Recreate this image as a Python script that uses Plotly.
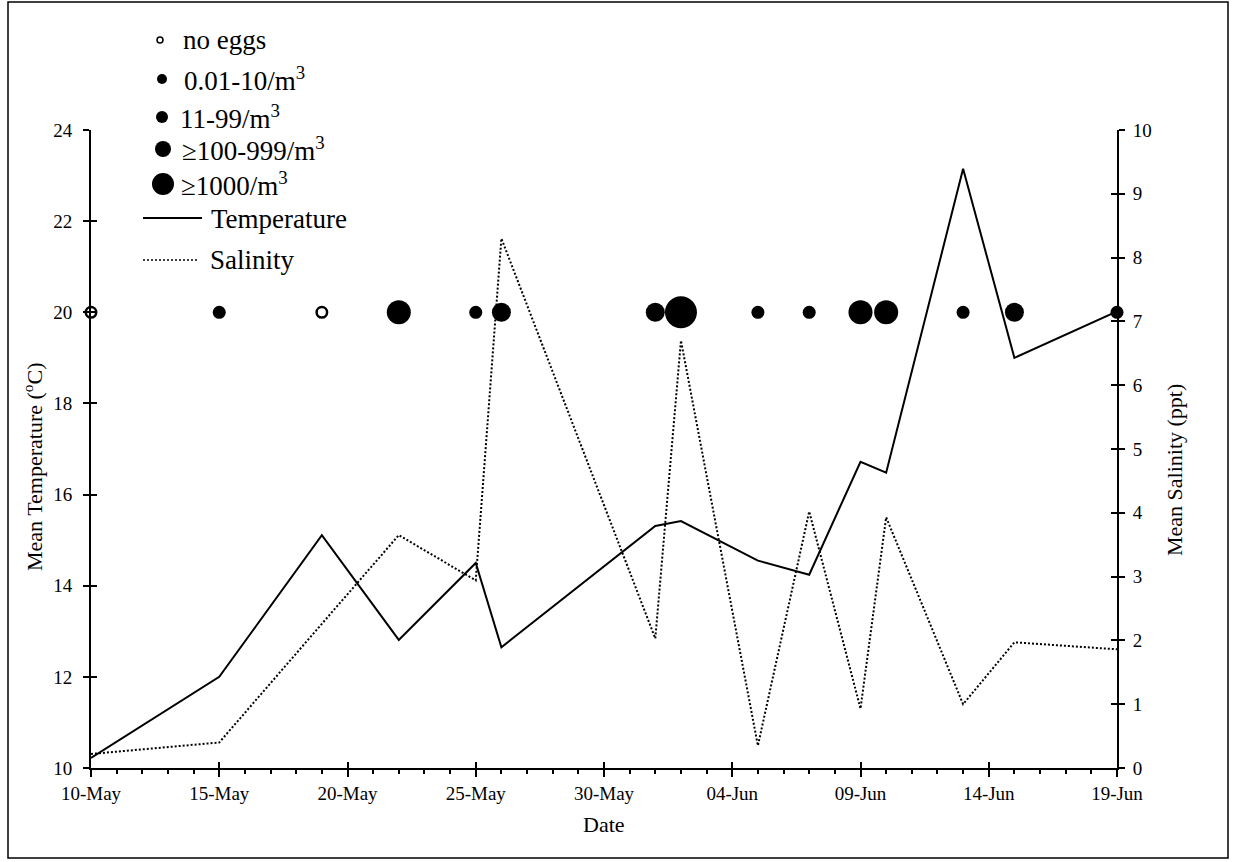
import plotly.graph_objects as go

# ---------------- data ----------------
dates = ["2023-05-10", "2023-05-15", "2023-05-19", "2023-05-22", "2023-05-25",
         "2023-05-26", "2023-06-01", "2023-06-02", "2023-06-05", "2023-06-07",
         "2023-06-09", "2023-06-10", "2023-06-13", "2023-06-15", "2023-06-19"]
temperature = [10.22, 12.0, 15.11, 12.81, 14.5, 12.65, 15.31, 15.42, 14.55, 14.24,
               16.72, 16.48, 23.15, 19.0, 20.02]
salinity = [0.22, 0.40, 2.26, 3.65, 2.94, 8.30, 2.03, 6.70, 0.35, 4.02,
            0.93, 3.93, 1.0, 1.97, 1.86]
egg_class = ["none", "c1", "none", "c3", "c1", "c2", "c2", "c4", "c1", "c1",
             "c3", "c3", "c1", "c2", "c1"]
egg_row_level = 20  # row of egg-density markers, on temperature axis

class_keys = ["none", "c1", "c2", "c3", "c4"]
class_labels = ["no eggs", "0.01-10/m<sup>3</sup>", "11-99/m<sup>3</sup>",
                "≥100-999/m<sup>3</sup>", "≥1000/m<sup>3</sup>"]

x_range = ["2023-05-10", "2023-06-19"]
temp_range = [10, 24]
sal_range = [0, 10]

# ---------------- styling ----------------
W, H = 1233, 862
PL, PR, PT, PB = 91, 1117, 130, 768
FONT = "Liberation Serif"
DAY = 86400000


def px(x):
    return x / W


def py(y):
    return 1 - y / H


chart_marker_size = {"none": 10.5, "c1": 13, "c2": 19, "c3": 24, "c4": 32}
legend_marker_size = {"none": 6, "c1": 10, "c2": 12, "c3": 16, "c4": 22}

fig = go.Figure()

fig.add_trace(go.Scatter(x=dates, y=temperature, mode="lines",
                         line=dict(color="black", width=2),
                         xaxis="x", yaxis="y", hoverinfo="skip"))
fig.add_trace(go.Scatter(x=dates, y=salinity, mode="lines",
                         line=dict(color="black", width=2, dash="2px,2px"),
                         xaxis="x", yaxis="y2", hoverinfo="skip"))

for k in class_keys:
    xs = [d for d, c in zip(dates, egg_class) if c == k]
    if k == "none":
        mk = dict(size=chart_marker_size[k], color="white",
                  line=dict(color="black", width=2.5))
    else:
        mk = dict(size=chart_marker_size[k], color="black",
                  line=dict(color="black", width=0))
    fig.add_trace(go.Scatter(x=xs, y=[egg_row_level] * len(xs), mode="markers",
                             marker=mk, cliponaxis=False,
                             xaxis="x", yaxis="y", hoverinfo="skip"))

# dummy traces so overlay axes (inner halves of crossing ticks) render
fig.add_trace(go.Scatter(x=[x_range[0]], y=[None], xaxis="x2", yaxis="y", mode="lines", hoverinfo="skip"))
fig.add_trace(go.Scatter(x=[x_range[0]], y=[None], xaxis="x", yaxis="y3", mode="lines", hoverinfo="skip"))
fig.add_trace(go.Scatter(x=[x_range[0]], y=[None], xaxis="x", yaxis="y4", mode="lines", hoverinfo="skip"))

xdom = [px(PL), px(PR)]
ydom = [py(PB), py(PT)]
tickfont = dict(family=FONT, size=19, color="black")

fig.update_layout(
    width=W, height=H,
    margin=dict(l=0, r=0, t=0, b=0),
    paper_bgcolor="white", plot_bgcolor="white",
    showlegend=False,
    font=dict(family=FONT, color="black"),
    xaxis=dict(domain=xdom, anchor="y", type="date", range=x_range,
               tick0=x_range[0], dtick=5 * DAY, tickformat="%d-%b",
               ticks="outside", ticklen=7, tickwidth=2, tickcolor="black",
               showline=True, linewidth=2, linecolor="black",
               showgrid=False, zeroline=False, tickfont=tickfont,
               automargin=False,
               minor=dict(dtick=DAY, tick0=x_range[0], ticks="outside",
                          ticklen=4, tickwidth=1.5, tickcolor="black",
                          showgrid=False)),
    xaxis2=dict(domain=xdom, anchor="y", overlaying="x", type="date", range=x_range,
                tick0=x_range[0], dtick=5 * DAY, ticks="inside", ticklen=6,
                tickwidth=2, tickcolor="black", showticklabels=False,
                showline=False, showgrid=False, zeroline=False, automargin=False),
    yaxis=dict(domain=ydom, anchor="x", range=temp_range, dtick=2,
               ticks="outside", ticklen=6, tickwidth=2, tickcolor="black",
               showline=True, linewidth=2, linecolor="black", ticklabelstandoff=7,
               showgrid=False, zeroline=False, tickfont=tickfont, automargin=False),
    yaxis2=dict(domain=ydom, anchor="x", overlaying="y", side="right",
                range=sal_range, dtick=1, ticklabelstandoff=4,
                ticks="outside", ticklen=6, tickwidth=2, tickcolor="black",
                showline=True, linewidth=2, linecolor="black",
                showgrid=False, zeroline=False, tickfont=tickfont, automargin=False),
    yaxis3=dict(domain=ydom, anchor="x", overlaying="y", range=temp_range, dtick=2,
                ticks="inside", ticklen=6, tickwidth=2, tickcolor="black",
                showticklabels=False, showline=False, showgrid=False,
                zeroline=False, automargin=False),
    yaxis4=dict(domain=ydom, anchor="x", overlaying="y", side="right",
                range=sal_range, dtick=1,
                ticks="inside", ticklen=6, tickwidth=2, tickcolor="black",
                showticklabels=False, showline=False, showgrid=False,
                zeroline=False, automargin=False),
)

shapes = []
annotations = []

# outer frame
shapes.append(dict(type="rect", xref="paper", yref="paper",
                   x0=px(8), x1=px(1228), y0=py(858), y1=py(2),
                   line=dict(color="black", width=1.5)))

# custom legend
leg_rows = [(160, 40, 181), (162, 79, 182), (162, 117, 178), (163, 149, 180), (163, 184, 179)]
for k, lab, (mx, my, tx) in zip(class_keys, class_labels, leg_rows):
    r = legend_marker_size[k] / 2
    if k == "none":
        fill, lw = "white", 1.5
    else:
        fill, lw = "black", 0
    shapes.append(dict(type="circle", xref="paper", yref="paper",
                       xsizemode="pixel", ysizemode="pixel",
                       xanchor=px(mx), yanchor=py(my),
                       x0=-r, x1=r, y0=-r, y1=r,
                       fillcolor=fill, line=dict(color="black", width=lw)))
    annotations.append(dict(xref="paper", yref="paper", x=px(tx), y=py(my),
                            xanchor="left", yanchor="middle", showarrow=False,
                            text=lab, font=dict(family=FONT, size=27, color="black")))

shapes.append(dict(type="line", xref="paper", yref="paper",
                   x0=px(143), x1=px(202), y0=py(218), y1=py(218),
                   line=dict(color="black", width=2)))
shapes.append(dict(type="line", xref="paper", yref="paper",
                   x0=px(143), x1=px(197), y0=py(260), y1=py(260),
                   line=dict(color="black", width=1.5, dash="2px,2px")))
annotations.append(dict(xref="paper", yref="paper", x=px(209), y=py(219),
                        xanchor="left", yanchor="middle", showarrow=False,
                        text="Temperature", font=dict(family=FONT, size=27, color="black")))
annotations.append(dict(xref="paper", yref="paper", x=px(208), y=py(260),
                        xanchor="left", yanchor="middle", showarrow=False,
                        text="Salinity", font=dict(family=FONT, size=27, color="black")))

# axis titles
annotations.append(dict(xref="paper", yref="paper", x=px(33), y=py(467),
                        xanchor="center", yanchor="middle", showarrow=False, textangle=-90,
                        text="Mean Temperature (<sup>o</sup>C)",
                        font=dict(family=FONT, size=22, color="black")))
annotations.append(dict(xref="paper", yref="paper", x=px(1175), y=py(470),
                        xanchor="center", yanchor="middle", showarrow=False, textangle=-90,
                        text="Mean Salinity (ppt)",
                        font=dict(family=FONT, size=22, color="black")))
annotations.append(dict(xref="paper", yref="paper", x=px(604), y=py(824),
                        xanchor="center", yanchor="middle", showarrow=False,
                        text="Date", font=dict(family=FONT, size=22, color="black")))

fig.update_layout(shapes=shapes, annotations=annotations)

fig.write_html("out.html")
